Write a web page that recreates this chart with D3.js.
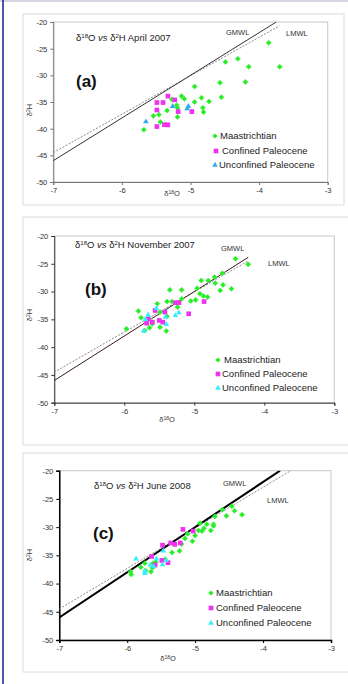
<!DOCTYPE html>
<html>
<head>
<meta charset="utf-8">
<script src="https://cdn.jsdelivr.net/npm/d3@7"></script>
<style>
body { margin:0; background:#fff; }
svg { font-family: "Liberation Sans", Arial, sans-serif; }
</style>
</head>
<body>
<div id="chart"></div>
<script>
var W = 348, H = 684

// x ticks (d18O) and y ticks (d2H), same for every panel
var xTicks = [-7, -6, -5, -4, -3]
var yTicks = [-20, -25, -30, -35, -40, -45, -50]
var seriesNames = ["Maastrichtian", "Confined Paleocene", "Unconfined Paleocene"]

// (a) April 2007
var aMaas = [[-3.86,-23.9],[-4.49,-27.5],[-4.31,-26.9],[-4.15,-28.4],[-3.70,-28.4],[-4.57,-31.4],[-4.20,-31.25],
  [-4.94,-32.1],[-4.55,-34.1],[-4.84,-34.2],[-4.73,-34.9],[-4.94,-35.0],[-5.13,-33.9],[-5.09,-34.4],[-5.27,-34.5],
  [-5.20,-35.6],[-5.19,-36.1],[-4.82,-36.1],[-4.81,-36.9],[-5.34,-36.6],[-5.19,-37.8],[-5.54,-37.6],[-5.46,-37.4],
  [-5.44,-38.75],[-5.68,-40.2]]
var aConf = [[-5.33,-33.9],[-5.23,-34.6],[-5.49,-35.1],[-5.40,-35.1],[-5.49,-36.5],[-5.18,-36.8],[-4.98,-36.8],
  [-5.49,-39.6],[-5.38,-39.25],[-5.33,-39.3]]
var aUnconf = [[-5.65,-38.7],[-5.26,-35.8],[-5.03,-35.8],[-5.05,-36.25]]
var aGmwl = [[-7,-46],[-3.75,-20]]
var aLmwl = [[-7,-44.5],[-3.70,-20.7]]

// (b) November 2007
var bMaas = [[-4.41,-24.1],[-4.23,-25.1],[-4.60,-26.7],[-4.71,-27.4],[-4.70,-28.5],[-4.80,-28.0],[-4.90,-28.0],
  [-4.59,-28.8],[-4.63,-29.8],[-4.47,-29.5],[-4.96,-29.4],[-4.92,-30.4],[-4.87,-30.8],[-4.81,-31.0],[-5.35,-29.7],
  [-5.18,-29.7],[-5.18,-31.3],[-5.05,-31.7],[-4.98,-31.5],[-5.39,-31.8],[-5.32,-31.8],[-5.53,-32.2],[-5.24,-32.8],
  [-5.80,-33.5],[-5.49,-33.7],[-5.76,-34.7],[-5.65,-34.9],[-5.60,-35.8],[-5.39,-34.5],[-5.49,-36.4],[-5.64,-36.5],
  [-5.97,-36.7],[-5.40,-37.1],[-5.71,-37.0]]
var bConf = [[-5.27,-32.0],[-5.22,-32.0],[-4.86,-31.8],[-5.08,-34.0],[-5.56,-33.4],[-5.42,-33.7],[-5.68,-35.7],
  [-5.60,-35.5],[-5.50,-35.2],[-5.45,-35.5],[-5.66,-34.9]]
var bUnconf = [[-5.54,-33.0],[-5.66,-34.2],[-5.41,-34.6],[-5.40,-35.9],[-5.27,-34.3],[-5.22,-33.8],[-5.72,-37.1],[-5.70,-35.0]]
var bGmwl = [[-7,-46],[-4.23,-23.84]]
var bLmwl = [[-7,-44.5],[-4.23,-24.5]]

// (c) June 2008
var cMaas = [[-4.60,-26.9],[-4.46,-26.3],[-4.42,-27.1],[-4.31,-27.8],[-4.54,-28.0],[-4.71,-28.1],[-4.73,-29.5],
  [-4.73,-29.8],[-4.93,-29.3],[-4.83,-29.5],[-4.77,-30.6],[-4.87,-30.2],[-4.95,-30.6],[-4.90,-30.7],[-5.00,-31.5],
  [-5.11,-31.2],[-5.15,-32.0],[-5.04,-32.5],[-5.20,-33.0],[-5.23,-34.2],[-5.34,-34.5],[-5.44,-35.7],[-5.62,-36.4],
  [-5.74,-36.4],[-5.80,-37.1],[-5.63,-37.2],[-5.65,-37.9],[-5.73,-37.7],[-5.95,-37.9],[-5.94,-38.4],[-5.58,-36.2]]
var cConf = [[-5.18,-30.4],[-5.03,-30.7],[-5.48,-33.2],[-5.36,-32.8],[-5.30,-33.05],[-5.22,-32.8],[-5.64,-35.2],
  [-5.49,-35.9],[-5.40,-36.3],[-5.59,-36.7]]
var cUnconf = [[-5.87,-35.6],[-5.47,-34.2],[-5.57,-35.6],[-5.43,-35.9],[-5.48,-36.65],[-5.61,-37.0],[-5.66,-36.7],
  [-5.74,-38.2],[-5.74,-37.8]]
var cGmwl = [[-7,-46],[-3.75,-20]]
var cLmwl = [[-7,-44.5],[-3.55,-19.7]]

var svg = d3.select("#chart").append("svg").attr("width", W).attr("height", H)

// page frame
svg.append("line").attr("x1",0).attr("x2",W).attr("y1",1).attr("y2",1).style("stroke","#a8acc8").style("stroke-width",1)
svg.append("line").attr("x1",3).attr("x2",3).attr("y1",0).attr("y2",H).style("stroke","#1a1a8c").style("stroke-width",1.5)

var panels = [
  {id:"a", box:[23,14,321,191], px:[53.3,327.7], py:[22,182], month:"April 2007", gap:"  ",
   maas:aMaas, conf:aConf, unconf:aUnconf, gmwl:aGmwl, lmwl:aLmwl,
   axisCol:"#777", axisW:1, gW:1, gCol:"#333", triCol:"#33aaee",
   title:[76,41], lab:[76,87], gLab:[226,35], lLab:[286,36],
   leg:[[215,220,139],[216,222,154],[215,219,168]], yt:[32,110], xt:[172,196]},
  {id:"b", box:[23,217,326,228], px:[54.3,334.3], py:[236,402.7], month:"November 2007", gap:" ",
   maas:bMaas, conf:bConf, unconf:bUnconf, gmwl:bGmwl, lmwl:bLmwl,
   axisCol:"#333", axisW:1, gW:1, gCol:"#3a1a1a", triCol:"#33eeff",
   title:[75,248], lab:[85,295], gLab:[221,251], lLab:[268,266],
   leg:[[218,224,363],[218,222,377],[218,222,391]], yt:[32,315], xt:[167,422]},
  {id:"c", box:[23,453,326,219], px:[59.3,331], py:[470.7,640], month:"June 2008", gap:" ",
   maas:cMaas, conf:cConf, unconf:cUnconf, gmwl:cGmwl, lmwl:cLmwl,
   axisCol:"#000", axisW:1.5, gW:2, gCol:"#000", triCol:"#33eeff",
   title:[94,489], lab:[93,539], gLab:[223,486], lLab:[267,503],
   leg:[[211,216,596],[211,216,611],[211,216,626]], yt:[32,555], xt:[168,661]}
]

panels.forEach(function(p){
  var g = svg.append("g")
  g.append("rect").attr("x",p.box[0]).attr("y",p.box[1]).attr("width",p.box[2]).attr("height",p.box[3])
    .style("fill","#fff").style("stroke","#dcdcdc").style("stroke-width",1)

  var x = d3.scaleLinear().domain([-7,-3]).range(p.px)
  var y = d3.scaleLinear().domain([-20,-50]).range(p.py)

  // plot area border
  g.append("rect").attr("x",p.px[0]).attr("y",p.py[0]).attr("width",p.px[1]-p.px[0]).attr("height",p.py[1]-p.py[0])
    .style("fill","none").style("stroke","#c8c8c8").style("stroke-width",1)

  var yAxis = g.append("g").attr("transform","translate("+p.px[0]+",0)")
    .call(d3.axisLeft(y).tickValues(yTicks).tickSize(3).tickFormat(function(d){ return String(d) }))
  var xAxis = g.append("g").attr("transform","translate(0,"+p.py[1]+")")
    .call(d3.axisBottom(x).tickValues(xTicks).tickSize(3).tickFormat(function(d){ return String(d) }))
  ;[yAxis, xAxis].forEach(function(ax){
    ax.select(".domain").style("stroke",p.axisCol).style("stroke-width",p.axisW)
    ax.selectAll(".tick line").style("stroke",p.axisCol)
    ax.selectAll("text").style("font-size","7.5px").style("fill","#333").style("font-family","Liberation Sans, Arial, sans-serif")
  })
  xAxis.selectAll("text").attr("y",6)

  // water lines
  var clipId = "clip" + p.id
  g.append("clipPath").attr("id",clipId).append("rect")
    .attr("x",p.px[0]).attr("y",p.py[0]).attr("width",p.px[1]-p.px[0]).attr("height",p.py[1]-p.py[0])
  var line = d3.line().x(function(d){ return x(d[0]) }).y(function(d){ return y(d[1]) })
  g.append("path").datum(p.lmwl).attr("d",line).attr("clip-path","url(#"+clipId+")")
    .style("fill","none").style("stroke","#8a8a8a").style("stroke-width",1).style("stroke-dasharray","2,1.5")
  g.append("path").datum(p.gmwl).attr("d",line).attr("clip-path","url(#"+clipId+")")
    .style("fill","none").style("stroke",p.gCol).style("stroke-width",p.gW)

  // compact diamond = square turned 45deg
  var diamond = d3.symbol().type(d3.symbolSquare).size(13)
  var square = d3.symbol().type(d3.symbolSquare).size(22)
  var tri = d3.symbol().type(d3.symbolTriangle).size(14)

  g.selectAll(".m").data(p.maas).enter().append("path").attr("d",diamond)
    .attr("transform",function(d){ return "translate("+x(d[0])+","+y(d[1])+") rotate(45)" })
    .style("fill","#22ee22").style("stroke","#55ee55").style("stroke-width",0.7)
  g.selectAll(".c").data(p.conf).enter().append("path").attr("d",square)
    .attr("transform",function(d){ return "translate("+x(d[0])+","+y(d[1])+")" })
    .style("fill","#ee33ee")
  g.selectAll(".u").data(p.unconf).enter().append("path").attr("d",tri)
    .attr("transform",function(d){ return "translate("+x(d[0])+","+y(d[1])+")" })
    .style("fill",p.triCol)

  // title
  var t = g.append("text").attr("x",p.title[0]).attr("y",p.title[1]).style("font-size","9.5px").style("fill","#222")
  t.append("tspan").text("δ")
  t.append("tspan").attr("dy",-3).style("font-size","6px").text("18")
  t.append("tspan").attr("dy",3).text("O" + (p.id=="a" ? " " : "  "))
  t.append("tspan").style("font-style","italic").text("vs")
  t.append("tspan").text(" δ")
  t.append("tspan").attr("dy",-3).style("font-size","6px").text("2")
  t.append("tspan").attr("dy",3).text("H" + p.gap + p.month)

  g.append("text").attr("x",p.lab[0]).attr("y",p.lab[1]).style("font-size","17px").style("font-weight","bold")
    .style("fill","#111").text("(" + p.id + ")")

  g.append("text").attr("x",p.gLab[0]).attr("y",p.gLab[1]).style("font-size","7.5px").style("fill","#333").text("GMWL")
  g.append("text").attr("x",p.lLab[0]).attr("y",p.lLab[1]).style("font-size","7.5px").style("fill","#333").text("LMWL")

  // legend
  var legSym = [diamond, square, tri]
  var legCol = ["#22ee22", "#ee33ee", p.triCol]
  p.leg.forEach(function(l, i){
    g.append("path").attr("d",legSym[i])
      .attr("transform","translate("+l[0]+","+(l[2]-3)+")" + (i==0 ? " rotate(45)" : ""))
      .style("fill",legCol[i])
    g.append("text").attr("x",l[1]).attr("y",l[2]).style("font-size","9.5px").style("fill","#222").text(seriesNames[i])
  })

  // axis titles
  var yt = g.append("text").attr("transform","translate("+p.yt[0]+","+p.yt[1]+") rotate(-90)")
    .attr("text-anchor","middle").style("font-size","7.5px").style("fill","#333")
  yt.append("tspan").text("δ")
  yt.append("tspan").attr("dy",-2.5).style("font-size","5px").text("2")
  yt.append("tspan").attr("dy",2.5).text("H")
  var xt = g.append("text").attr("x",p.xt[0]).attr("y",p.xt[1]).attr("text-anchor","middle").style("font-size","7.5px").style("fill","#333")
  xt.append("tspan").text("δ")
  xt.append("tspan").attr("dy",-2.5).style("font-size","5px").text("18")
  xt.append("tspan").attr("dy",2.5).text("O")
})
</script>
</body>
</html>
